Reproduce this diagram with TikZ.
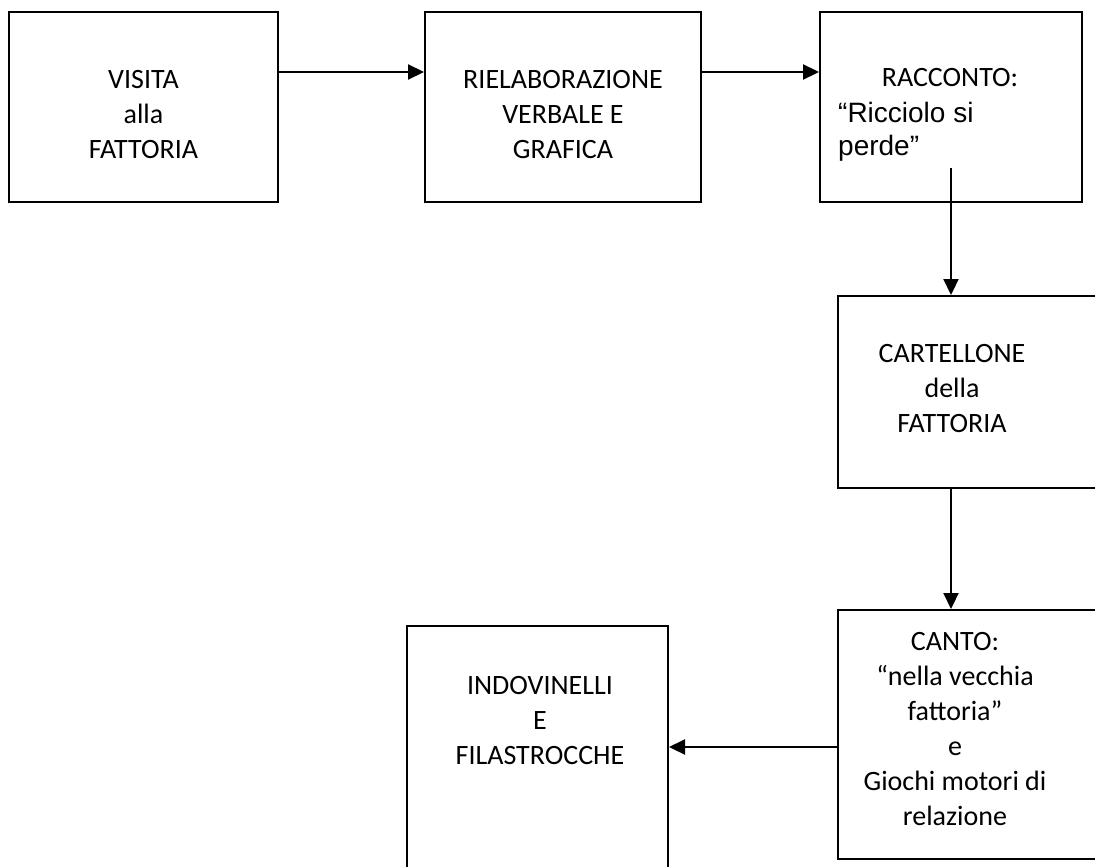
\documentclass[tikz,border=0pt]{standalone}
\usepackage{fontspec}
\setmainfont{Carlito}
\newfontfamily\arialfont{Liberation Sans}
\usepackage{tikz}
\usetikzlibrary{arrows.meta}
\usetikzlibrary{calc}

\tikzset{
    box/.style={draw, line width=2pt, inner sep=0pt},
    txt/.style={anchor=base, align=center, inner sep=0pt, font=\fontsize{28}{35}\selectfont},
    arr/.style={line width=2.2pt, -{Triangle[length=16pt,width=15pt]}}
}

\begin{document}
\begin{tikzpicture}[x=1pt, y=-1pt]
        \useasboundingbox (0,0) rectangle (1095,867);
        \clip (0,0) rectangle (1095,867);
        \node[box, minimum width=269pt, minimum height=190pt] (visita) at (143.5,107){};
        \node[box, minimum width=276pt, minimum height=190pt] (rielab) at (563,107){};
        \node[box, minimum width=262pt, minimum height=190pt] (racconto) at (951,107){};
        \node[box, minimum width=282pt, minimum height=192pt] (cartellone) at (979,392){};
        \node[box, minimum width=282pt, minimum height=249pt] (canto) at (979,734.5){};
        \node[box, minimum width=261pt, minimum height=274pt] (indovinelli) at (537.5,763){};
        \node[txt] (t1) at (143.5,158){VISITA\\alla\\FATTORIA};
        \node[txt] (t2) at (563,158){RIELABORAZIONE\\VERBALE E\\GRAFICA};
        \node[txt] (t3) at (950,87){RACCONTO:};
        \node[txt, align=left, anchor=base west, font=\arialfont\fontsize{28}{33}\selectfont] (t3b) at (838,155){“Ricciolo si\\perde”};
        \node[txt] (t4) at (952,432){CARTELLONE\\della\\FATTORIA};
        \node[txt] (t5) at (955,825){CANTO:\\“nella vecchia\\fattoria”\\e\\Giochi motori di\\relazione};
        \node[txt] (t6) at (540,764){INDOVINELLI\\E\\FILASTROCCHE};
        \draw[arr] ([yshift=35pt]visita.east) -- ([yshift=35pt]rielab.west);
        \draw[arr] ([yshift=35pt]rielab.east) -- ([yshift=35pt]racconto.west);
        \draw[arr] ([yshift=-61pt]racconto.center) -- (racconto.center |- cartellone.north);
        \draw[arr] ([xshift=-28pt]cartellone.south) -- ([xshift=-28pt]canto.north);
        \draw[arr] ([yshift=-12.5pt]canto.west) -- ([yshift=16pt]indovinelli.east);
    \end{tikzpicture}
\end{document}
